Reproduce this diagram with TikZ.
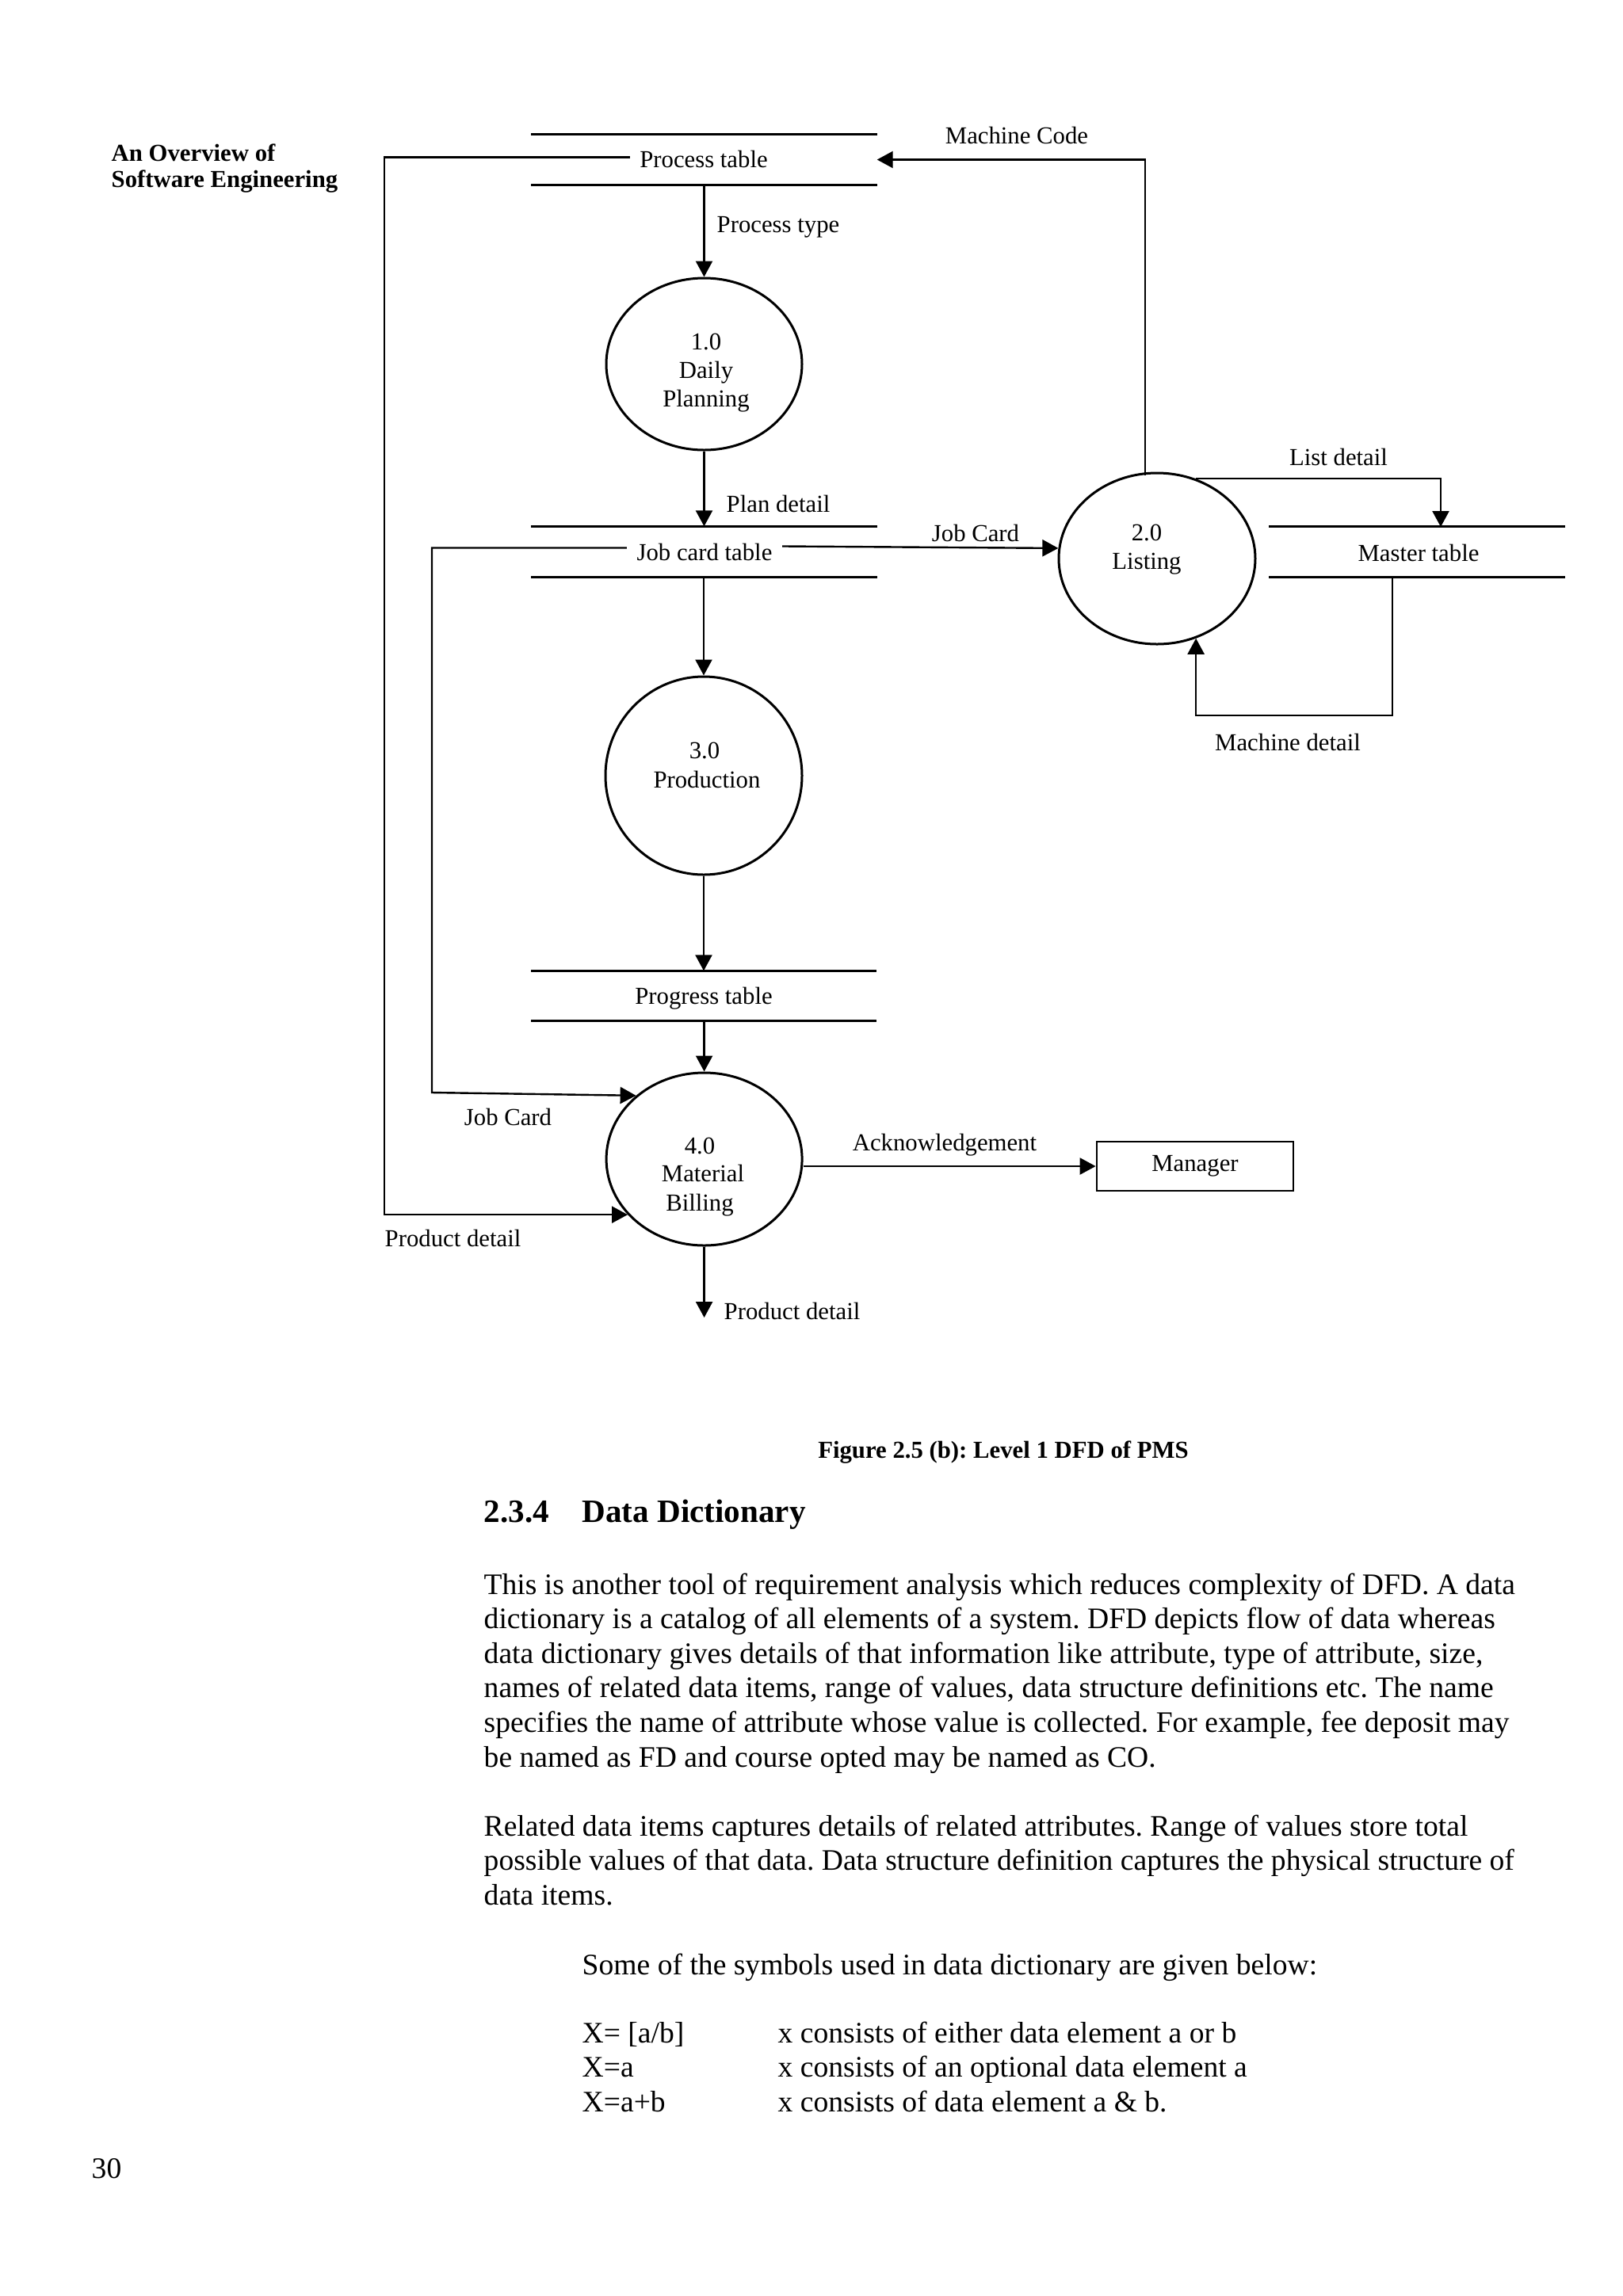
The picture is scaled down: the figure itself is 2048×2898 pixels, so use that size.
\documentclass[tikz,border=0pt]{standalone}
\usepackage{fontspec}
\setmainfont[Ligatures=NoCommon]{Liberation Serif}
\usetikzlibrary{shapes.geometric,arrows.meta}
\frenchspacing
\begin{document}
\begin{tikzpicture}[x=0.1mm,y=-0.1mm]
\tikzset{
  lbl/.style={font=\fontsize{8.75}{10.2}\selectfont, inner sep=0pt},
  slbl/.style={font=\fontsize{8.75}{10.2}\selectfont, inner ysep=0pt, inner xsep=1.2mm},
  hdr/.style={font=\fontsize{8.75}{10.2}\selectfont\bfseries, inner sep=0pt, anchor=base west},
  body/.style={font=\fontsize{10.7}{12.35}\selectfont, inner sep=0pt, anchor=base west},
  proc/.style={draw, ellipse, line width=0.3mm, inner sep=0pt},
  store/.style={inner sep=0pt},
  storeline/.style={line width=0.28mm},
  ext/.style={draw, rectangle, line width=0.28mm, inner sep=0pt, font=\fontsize{8.75}{10.2}\selectfont},
  flow/.style={line width=0.24mm, -{Triangle[length=2mm,width=2.1mm]}},
}
\fill[white] (0,0) rectangle (2048,2898);
\useasboundingbox (0,0) rectangle (2048,2898);

% running header
\node[hdr] (h1) at (140,203) {An Overview of};
\node[hdr] (h2) at (140,236) {Software Engineering};

% data stores
\node[store, minimum width=43.5mm, minimum height=6.3mm] (pt) at (888.5,201.5) {};
\draw[storeline] (pt.north west) -- (pt.north east) (pt.south west) -- (pt.south east);
\node[slbl, anchor=base] (ptt) at (888,211) {Process table};

\node[store, minimum width=43.5mm, minimum height=6.3mm] (jct) at (888.5,696.5) {};
\draw[storeline] (jct.north west) -- (jct.north east) (jct.south west) -- (jct.south east);
\node[slbl, anchor=base] (jctt) at (889,707) {Job card table};

\node[store, minimum width=43.4mm, minimum height=6.2mm] (pg) at (888,1257) {};
\draw[storeline] (pg.north west) -- (pg.north east) (pg.south west) -- (pg.south east);
\node[slbl, anchor=base] (pgt) at (888,1267) {Progress table};

\node[store, minimum width=37.2mm, minimum height=6.3mm] (mt) at (1788,696.5) {};
\draw[storeline] (mt.north west) -- (mt.north east) (mt.south west) -- (mt.south east);
\node[slbl, anchor=base] (mtt) at (1790,708) {Master table};

% processes
\node[proc, minimum width=24.7mm, minimum height=21.7mm] (p1) at (888.5,459.5) {};
\node[lbl, anchor=base] (p1a) at (891,441) {1.0};
\node[lbl, anchor=base] (p1b) at (891,477) {Daily};
\node[lbl, anchor=base] (p1c) at (891,513) {Planning};

\node[proc, minimum width=24.8mm, minimum height=21.6mm] (p2) at (1460,705) {};
\node[lbl, anchor=base] (p2a) at (1447,682) {2.0};
\node[lbl, anchor=base] (p2b) at (1447,718) {Listing};

\node[proc, minimum width=24.8mm, minimum height=25.0mm] (p3) at (888,979) {};
\node[lbl, anchor=base] (p3a) at (889,957) {3.0};
\node[lbl, anchor=base] (p3b) at (892,994) {Production};

\node[proc, minimum width=24.7mm, minimum height=21.8mm] (p4) at (888.6,1463) {};
\node[lbl, anchor=base] (p4a) at (883,1456) {4.0};
\node[lbl, anchor=base] (p4b) at (887,1491) {Material};
\node[lbl, anchor=base] (p4c) at (883,1528) {Billing};

% external entity
\node[ext, minimum width=24.8mm, minimum height=6.2mm] (mgr) at (1508,1472) {Manager};

% helper coordinates
\coordinate (mcs) at (1445,600);
\coordinate (ldT) at (1818,665);
\coordinate (mdS) at (1757,728);
\coordinate (mdB) at (1757,903);
\coordinate (lpx) at (485,201);
\coordinate (jlx) at (545,1379);
\coordinate (pdE) at (888.6,1663);

% flows
\draw[flow] (pt.south) -- (p1.north);
\draw[flow] (p1.south) -- (p1.south |- jct.north);
\draw[flow] (jct.south -| p3.north) -- (p3.north);
\draw[flow] (p3.south) -- (p3.south |- pg.north);
\draw[flow] (pg.south -| p4.north) -- (p4.north);
\draw[flow] (mcs) |- (pt.east);
\draw[flow] ([yshift=0.7mm]jctt.east) -- (p2.174);
\draw[flow] (p2.64) -| (ldT);
\draw[flow] (mdS) -- (mdB) -| (p2.-64);
\draw[flow] ([yshift=0.2mm]ptt.west) -- ([yshift=0.2mm]ptt.west -| lpx) |- (p4.216);
\draw[flow] ([yshift=0.5mm]jctt.west) -- ([yshift=0.5mm]jctt.west -| jlx) -- (jlx) -- (p4.137);
\draw[flow] (p4.east |- mgr.west) -- (mgr.west);
\draw[flow] (p4.south) -- (pdE);

% flow labels
\node[lbl, anchor=base] (lmc) at (1283,181) {Machine Code};
\node[lbl, anchor=base west] (lpt) at (904,293) {Process type};
\node[lbl, anchor=base west] (lpd) at (916,646) {Plan detail};
\node[lbl, anchor=base] (ljc1) at (1231,683) {Job Card};
\node[lbl, anchor=base] (lld) at (1689,587) {List detail};
\node[lbl, anchor=base] (lmd) at (1625,947) {Machine detail};
\node[lbl, anchor=base] (ljc2) at (641,1420) {Job Card};
\node[lbl, anchor=base] (lack) at (1192,1452) {Acknowledgement};
\node[lbl, anchor=base west] (lpr1) at (485,1573) {Product detail};
\node[lbl, anchor=base west] (lpr2) at (913,1665) {Product detail};

% caption and text
\node[lbl, font=\fontsize{8.75}{10.2}\selectfont\bfseries, anchor=base] (cap) at (1266,1840) {Figure 2.5 (b): Level 1 DFD of PMS};
\node[body, font=\fontsize{11.7}{14}\selectfont\bfseries] (secn) at (610,1921) {2.3.4};
\node[body, font=\fontsize{11.7}{14}\selectfont\bfseries] (sect) at (734,1921) {Data Dictionary};

\node[body] (a1) at (610,2012) {This is another tool of requirement analysis which reduces complexity of DFD. A data};
\node[body] (a2) at (610,2055.6) {dictionary is a catalog of all elements of a system. DFD depicts flow of data whereas};
\node[body] (a3) at (610,2099.2) {data dictionary gives details of that information like attribute, type of attribute, size,};
\node[body] (a4) at (610,2142.8) {names of related data items, range of values, data structure definitions etc. The name};
\node[body] (a5) at (610,2186.4) {specifies the name of attribute whose value is collected. For example, fee deposit may};
\node[body] (a6) at (610,2230) {be named as FD and course opted may be named as CO.};

\node[body] (b1) at (610,2317) {Related data items captures details of related attributes. Range of values store total};
\node[body] (b2) at (610,2360.6) {possible values of that data. Data structure definition captures the physical structure of};
\node[body] (b3) at (610,2404.2) {data items.};

\node[body] (c1) at (734,2492) {Some of the symbols used in data dictionary are given below:};

\node[body] (t1) at (734,2578) {X= [a/b]};
\node[body] (t2) at (734,2621.6) {X=a};
\node[body] (t3) at (734,2665.2) {X=a+b};
\node[body] (u1) at (981,2578) {x consists of either data element a or b};
\node[body] (u2) at (981,2621.6) {x consists of an optional data element a};
\node[body] (u3) at (981,2665.2) {x consists of data element a \& b.};

\node[body] (pnum) at (115,2749) {30};
\end{tikzpicture}
\end{document}
